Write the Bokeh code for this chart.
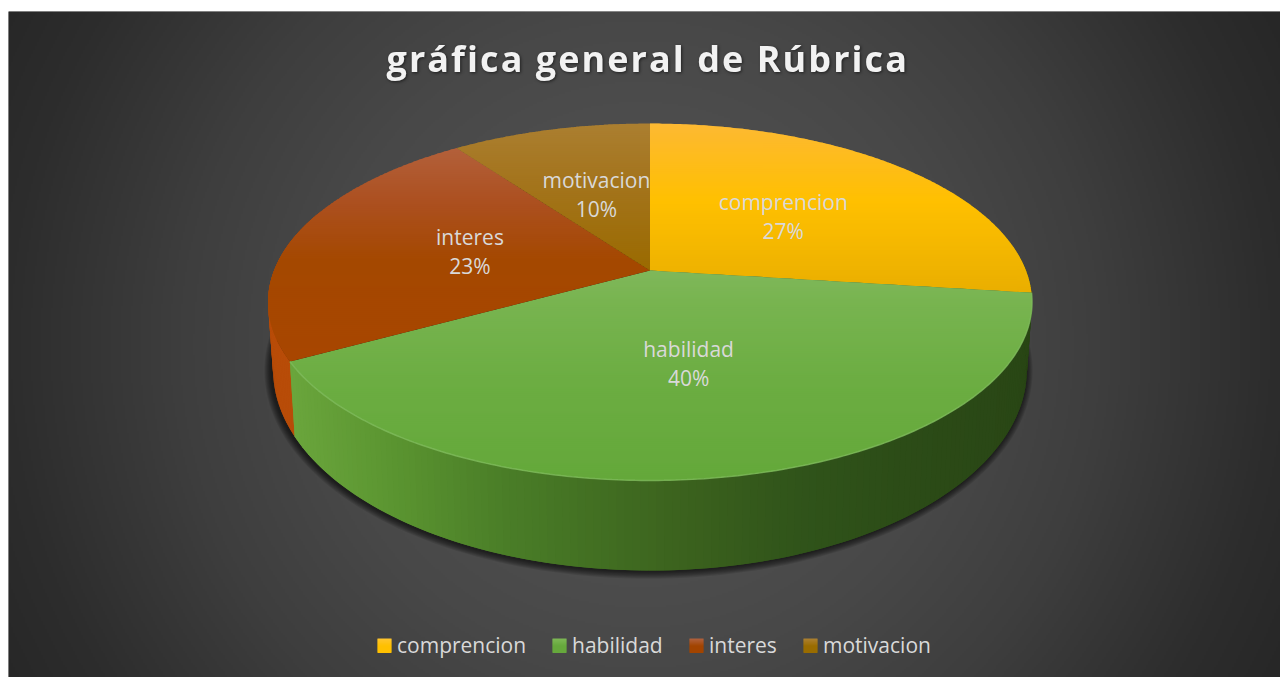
import math
import numpy as np
from bokeh.plotting import figure
from bokeh.document import Document
from bokeh.models import Range1d, CustomJS
from bokeh.core.properties import value
from bokeh.embed import file_html
from bokeh.resources import INLINE

TITLE = "gráfica general de Rúbrica"
categories = ["comprencion", "habilidad", "interes", "motivacion"]
values = [27, 40, 23, 10]

# styles: (pixel y, colour) stops of the top face of each slice
FACE_STOPS = [
    [(123, "#fdb932"), (200, "#ffc000"), (292, "#e9ae00")],
    [(270, "#7fb75a"), (300, "#78b450"), (380, "#6cad42"), (480, "#64a83a")],
    [(148, "#b3603a"), (200, "#ac5020"), (260, "#a44800"), (360, "#a84600")],
    [(123, "#ab7f30"), (170, "#a57620"), (270, "#9a6a00")],
]
LEGEND_TOP = ["#ffc52e", "#7db755", "#b0603c", "#ab8030"]
LEGEND_BOT = ["#ffc000", "#66a83c", "#a24400", "#996c00"]
GREEN_SIDE = [(295, "#6aa53c"), (400, "#5a9430"), (500, "#4b7f28"), (600, "#426f22"),
              (700, "#3a601d"), (800, "#30541a"), (900, "#2c4c17"), (1030, "#294615")]
ORANGE_SIDE = "#b84c08"
LEGEND_X = [377, 552, 689, 803]

X0, Y0, W, H = 8, 11, 1272, 666
CX, K = 649.5, 0.1765
TOP = dict(yc=270.0, a=172.9, r=376.0)
BOT = dict(yc=333.5, a=194.8, r=371.0)


def Y(y):
    return Y0 + H - np.asarray(y, dtype=float)


def proj(theta, rad, g):
    u = rad * np.sin(theta)
    v = -rad * np.cos(theta)
    w = 1 / (1 - K * v)
    return CX + g["r"] * u * w, g["yc"] + g["a"] * v * w


def hex2rgb(c):
    return np.array([int(c[i:i + 2], 16) for i in (1, 3, 5)], dtype=float)


def ramp(pos, stops):
    xs = [s[0] for s in stops]
    cols = np.array([hex2rgb(s[1]) for s in stops])
    rgb = [np.interp(pos, xs, cols[:, i]) for i in range(3)]
    return "#%02x%02x%02x" % tuple(int(round(c)) for c in rgb)


def clip_band(pts, y_lo, y_hi):
    """Cut a polygon to the horizontal band y_lo..y_hi."""
    def cut(poly, keep, ycut):
        out = []
        for j in range(len(poly)):
            a, b = poly[j], poly[(j + 1) % len(poly)]
            ka, kb = keep(a[1]), keep(b[1])
            if ka:
                out.append(a)
            if ka != kb:
                f = (ycut - a[1]) / (b[1] - a[1])
                out.append((a[0] + f * (b[0] - a[0]), ycut))
        return out
    res = cut(pts, lambda v: v >= y_lo, y_lo)
    if res:
        res = cut(res, lambda v: v <= y_hi, y_hi)
    return res


p = figure(width=W, height=H, x_range=Range1d(X0, X0 + W), y_range=Range1d(0, H),
           output_backend="svg", toolbar_location=None, min_border=0,
           outline_line_color=None, background_fill_color="#3a3a3a", border_fill_color=None)
p.margin = (11, 0, 0, 8)
p.axis.visible = False
p.grid.visible = False

# background: radial gradient
sx, sy = np.meshgrid(np.arange(W // 2) * 2 + X0 + 1, np.arange(H // 2) * 2 + Y0 + 1)
dist = np.hypot(sx - 640, sy - 344) / 720
lev = np.interp(dist, [0, .45, .64, .875, 1], [0x58, 0x48, 0x3e, 0x2d, 0x27]).astype(np.uint32)
img = (0xFF000000 | lev << 16 | lev << 8 | lev)[::-1]
p.image_rgba(image=[img], x=X0, y=0, dw=W, dh=H)

total = sum(values)
edges = np.cumsum([0] + values) / total * 2 * math.pi

# shadow under the pie
th = np.linspace(0, 2 * math.pi, 241)
bx, by = proj(th, 1.0, BOT)
for grow in range(7, 0, -1):
    cy = by.mean()
    fx = (CX + (bx - CX) * (1 + grow / 370.0)) - 1.5
    fy = cy + (by - cy) * (1 + grow / 205.0) + 0.5
    p.patch(fx, Y(fy), fill_color="#000000", fill_alpha=0.11, line_color=None)

# side wall: every strip overlaps the next one, so no seams show
deg = math.radians(1.0)
side = dict(xs=[], ys=[], c=[])
for t in np.arange(edges[2] + math.radians(50), edges[2], -deg):
    ta, tb = t - 2 * deg, t
    xa, ya = proj(np.array(ta), 1.0, TOP)
    xb, yb = proj(np.array(tb), 1.0, TOP)
    xc, yc = proj(np.array(tb), 1.0, BOT)
    xd, yd = proj(np.array(ta), 1.0, BOT)
    side["xs"].append([xa, xb, xc, xd])
    side["ys"].append(list(Y([ya, yb, yc, yd])))
    side["c"].append(ORANGE_SIDE)
for t in np.arange(edges[1] - math.radians(12), edges[2], deg)[::-1]:
    ta, tb = t, min(t + 2 * deg, edges[2])
    xa, ya = proj(np.array(ta), 1.0, TOP)
    xb, yb = proj(np.array(tb), 1.0, TOP)
    xc, yc = proj(np.array(tb), 1.0, BOT)
    xd, yd = proj(np.array(ta), 1.0, BOT)
    side["xs"].append([xa, xb, xc, xd])
    side["ys"].append(list(Y([ya, yb, yc, yd])))
    side["c"].append(ramp((xa + xb + xc + xd) / 4, GREEN_SIDE))
p.patches(side["xs"], side["ys"], fill_color=side["c"], line_color=None)

# top face: horizontal bands carry the vertical gradient
BAND = 2.0
for i in range(len(values)):
    tt = np.linspace(edges[i], edges[i + 1], 181)
    ox, oy = proj(tt, 1.0, TOP)
    outline = [(CX, TOP["yc"])] + list(zip(ox, oy))
    lo, hi = min(oy.min(), TOP["yc"]), max(oy.max(), TOP["yc"])
    xs_, ys_, cs_ = [], [], []
    # bands run upward and each reaches over the one painted before it
    for yb in np.arange(hi, lo - BAND, -BAND):
        poly = clip_band(outline, yb - BAND, yb + 1.0)
        if len(poly) < 3:
            continue
        xs_.append([q[0] for q in poly])
        ys_.append(list(Y([q[1] for q in poly])))
        cs_.append(ramp(yb - BAND / 2, FACE_STOPS[i]))
    p.patches(xs_, ys_, fill_color=cs_, line_color=None)

# lighter rim along the front edge of the top face
rim = np.linspace(edges[1], edges[2], 200)
rx, ry = proj(rim, 1.0, TOP)
p.line(rx, Y(ry), line_color="#7fbb5c", line_width=1.5, line_alpha=0.8)

# title and slice labels
p.text([386], Y([58]), text=[TITLE], text_font=value("Open Sans"), text_font_style="bold",
       text_font_size="36px", text_color="#f2f2f2", text_align="left", text_baseline="middle")

for i, name in enumerate(categories):
    mid_t = (edges[i] + edges[i + 1]) / 2
    lx, ly = proj(np.array(mid_t), 0.5, TOP)
    pct = "%d%%" % round(values[i] / total * 100)
    p.text([lx], Y([ly - 14.5]), text=[name], text_font=value("Open Sans"), text_font_size="21px",
           text_color="#d9d9d9", text_align="center", text_baseline="middle")
    p.text([lx], Y([ly + 14.5]), text=[pct], text_font=value("Open Sans"), text_font_size="21px",
           text_color="#d9d9d9", text_align="center", text_baseline="middle")

# legend
for i, name in enumerate(categories):
    lx = LEGEND_X[i]
    for j in range(14):
        col = ramp(j, [(0, LEGEND_TOP[i]), (7, LEGEND_BOT[i]), (13, LEGEND_BOT[i])])
        p.quad(left=[lx], right=[lx + 14], top=Y([638 + j]), bottom=Y([639.5 + j]),
               fill_color=col, line_color=None)
    p.text([lx + 19.5], Y([644]), text=[name], text_font=value("Open Sans"), text_font_size="21px",
           text_color="#d9d9d9", text_align="left", text_baseline="middle")

# the title of the reference is letter-spaced; the text stays one real string
spacer = CustomJS(args=dict(title=TITLE), code="""
function walk(root) {
  root.querySelectorAll('*').forEach(function (el) {
    if (el.shadowRoot) walk(el.shadowRoot);
    if (el.tagName && el.tagName.toLowerCase() === 'text' && el.textContent === title) {
      el.style.letterSpacing = '2.05px';
      el.style.filter = 'drop-shadow(1px 1px 1.5px rgba(0,0,0,0.55))';
    }
  });
}
[0, 100, 300, 600, 1200].forEach(function (ms) { setTimeout(function () { walk(document); }, ms); });
""")
doc = Document()
doc.add_root(p)
doc.js_on_event("document_ready", spacer)

open("out.html", "w").write(file_html(doc, INLINE))
